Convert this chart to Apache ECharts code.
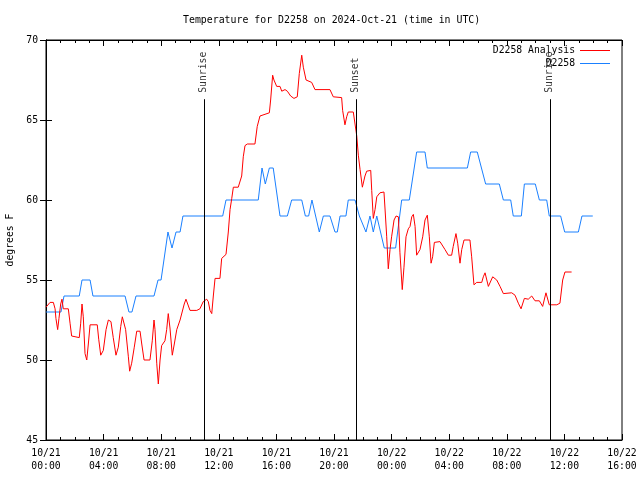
<!DOCTYPE html>
<html>
<head>
<meta charset="utf-8">
<script src="https://cdn.jsdelivr.net/npm/echarts@6/dist/echarts.min.js"></script>
<style>html,body{margin:0;padding:0;background:#fff}#c{width:640px;height:480px}</style>
</head>
<body>
<div id="c"></div>
<script>
// Hours since 2024-10-21 00:00 UTC
var xTickLabels = ['10/21\n00:00','10/21\n04:00','10/21\n08:00','10/21\n12:00','10/21\n16:00','10/21\n20:00',
                   '10/22\n00:00','10/22\n04:00','10/22\n08:00','10/22\n12:00','10/22\n16:00'];

var analysisHours = [0.0,0.28,0.51,0.63,0.69,0.81,0.9,1.02,1.11,1.2,1.55,1.67,1.78,2.31,2.41,2.5,2.59,2.71,2.83,2.94,
  3.06,3.56,3.66,3.8,3.98,4.17,4.33,4.51,4.67,4.86,5.02,5.19,5.3,5.53,5.72,5.81,5.95,6.13,6.3,6.53,6.65,6.81,7.22,
  7.38,7.5,7.57,7.69,7.8,7.92,8.03,8.26,8.38,8.49,8.61,8.77,8.91,9.08,9.31,9.6,9.72,10.0,10.47,10.69,10.92,11.16,
  11.27,11.39,11.51,11.62,11.74,12.08,12.2,12.5,12.66,12.78,12.9,13.01,13.35,13.47,13.59,13.7,13.82,13.98,14.51,
  14.67,14.86,15.51,15.6,15.74,15.83,16.02,16.25,16.37,16.6,16.76,16.99,17.22,17.45,17.59,17.76,17.87,18.06,18.45,
  18.68,19.72,19.95,20.53,20.6,20.76,20.88,20.99,21.34,21.46,21.58,21.69,21.81,21.97,22.15,22.27,22.55,22.62,22.73,
  22.85,22.97,23.19,23.47,23.54,23.66,23.77,23.89,24.0,24.17,24.31,24.47,24.58,24.74,24.86,25.0,25.16,25.28,25.4,
  25.51,25.63,25.74,25.97,26.16,26.32,26.48,26.62,26.74,26.85,26.97,27.36,27.48,27.71,27.94,28.17,28.28,28.47,28.59,
  28.75,28.87,29.03,29.44,29.56,29.72,29.91,30.26,30.37,30.49,30.72,31.02,31.3,31.53,31.76,32.34,32.57,32.8,32.99,
  33.22,33.49,33.73,33.96,34.26,34.49,34.72,34.95,35.47,35.69,35.88,36.04,36.5];
var analysisTemps = [53.3,53.6,53.6,53.2,52.6,51.9,52.6,53.5,53.8,53.2,53.2,52.3,51.5,51.4,52.3,53.5,52.7,50.4,50.0,51.0,
  52.2,52.2,51.3,50.3,50.6,51.9,52.5,52.4,51.4,50.3,50.8,52.1,52.7,51.9,50.2,49.3,49.8,50.8,51.8,51.8,51.0,50.0,50.0,
  51.2,52.5,51.9,49.8,48.5,50.0,50.9,51.2,51.9,52.9,52.0,50.3,51.0,51.9,52.5,53.5,53.8,53.1,53.1,53.2,53.65,53.8,
  53.65,53.1,52.9,54.0,55.1,55.1,56.35,56.6,58.0,59.4,60.1,60.8,60.8,60.8,61.5,62.7,63.4,63.5,63.5,
  64.6,65.25,65.45,66.25,67.8,67.5,67.1,67.1,66.8,66.9,66.8,66.5,66.35,66.45,67.9,69.05,68.3,67.5,67.35,
  66.9,66.9,66.45,66.4,65.6,64.7,65.2,65.5,65.5,65.4,64.0,62.8,61.9,60.8,61.5,61.8,61.85,60.6,58.85,
  59.4,60.2,60.45,60.5,59.5,57.7,55.7,56.9,57.7,58.75,59.0,58.95,56.7,54.4,55.8,57.7,58.2,58.35,58.95,
  59.1,58.35,56.55,56.9,57.7,58.75,59.05,57.7,56.05,56.45,57.35,57.4,57.35,56.9,56.55,56.55,57.1,57.9,57.3,
  56.05,56.9,57.5,57.5,56.45,54.7,54.85,54.85,55.2,55.45,54.6,55.2,55.0,54.6,54.15,54.2,54.05,53.55,53.2,
  53.85,53.8,54.0,53.7,53.7,53.35,54.2,53.45,53.45,53.55,55.0,55.5,55.5];

var obsHours = [0.0,1.04,1.25,2.31,2.5,3.06,3.26,5.49,5.76,5.97,6.25,7.5,7.78,7.99,8.47,8.75,9.03,9.31,9.51,12.27,12.5,
  14.74,15.0,15.23,15.51,15.78,16.25,16.76,17.06,17.76,18.01,18.24,18.47,18.98,19.26,19.72,20.07,20.23,20.42,20.83,
  20.99,21.46,21.76,22.22,22.5,22.73,22.97,23.49,24.28,24.7,25.23,25.74,26.32,26.48,29.26,29.49,29.95,30.53,31.48,
  31.76,32.27,32.45,33.01,33.22,33.98,34.26,34.77,34.95,35.74,36.02,36.97,37.22,37.97];
var obsTemps = [53,53,54,54,55,55,54,54,53,53,54,54,55,55,58,57,58,58,59,59,60,
  60,62,61,62,62,59,59,60,60,59,59,60,58,59,59,58,58,59,59,
  60,60,59,58,59,58,59,57,57,60,60,63,63,62,62,63,63,61,61,
  60,60,59,59,61,61,60,60,59,59,58,58,59,59];

var sunNames = ['Sunrise','Sunset','Sunrise'];
var sunHours = [11.0, 21.55, 35.02];
var sunLineTop = 66.3;
var sunLabelBase = 66.7;

var seriesNames = ['D2258 Analysis','D2258'];
var seriesColors = ['#ff0000','#1a80ff'];

function pairs(xs, ys){ return xs.map(function(x,i){ return [x, ys[i]]; }); }

var FONT = 'DejaVu Sans Mono';
var FS = 9.75;
var chart = echarts.init(document.getElementById('c'), null, {renderer:'canvas'});
var axisCommon = {
  type:'value', min:0, max:40, interval:4,
  axisLine:{show:true, lineStyle:{color:'#000', width:1}},
  axisTick:{show:true, inside:true, length:6, lineStyle:{color:'#000'}},
  minorTick:{show:true, splitNumber:4, length:3, lineStyle:{color:'#000'}},
  splitLine:{show:false}
};
chart.setOption({
  animation:false,
  backgroundColor:'#fff',
  title:{text:'Temperature for D2258 on 2024-Oct-21 (time in UTC)', left:178, top:10,
    textStyle:{fontFamily:FONT, fontSize:9.9, fontWeight:'normal', color:'#000'}},
  legend:{data:seriesNames.map(function(n){ return {name:n, icon:'rect'}; }),
    orient:'vertical', align:'right', right:30, top:44, padding:0,
    itemWidth:30, itemHeight:1, itemGap:0,
    textStyle:{fontFamily:FONT, fontSize:FS, lineHeight:13, color:'#000'}},
  grid:{left:46, right:18, top:40, bottom:40, show:true, borderColor:'#000', borderWidth:1,
    containLabel:false, outerBoundsMode:'none'},
  xAxis:[
    Object.assign({}, axisCommon, {position:'bottom',
      axisLabel:{show:true, margin:7, lineHeight:13, fontFamily:FONT, fontSize:FS, color:'#000',
        formatter:function(v){ return xTickLabels[Math.round(v/4)]; }}}),
    Object.assign({}, axisCommon, {position:'top', axisLabel:{show:false}})
  ],
  yAxis:[
    {type:'value', min:45, max:70, interval:5, position:'left',
      name:'degrees F', nameLocation:'middle', nameGap:28, nameRotate:90,
      nameTextStyle:{fontFamily:FONT, fontSize:FS, color:'#000'},
      axisLine:{show:true, lineStyle:{color:'#000'}},
      axisTick:{show:true, inside:true, length:6, lineStyle:{color:'#000'}},
      axisLabel:{margin:8, fontFamily:FONT, fontSize:FS, color:'#000'},
      splitLine:{show:false}},
    {type:'value', min:45, max:70, interval:5, position:'right',
      axisLine:{show:true, lineStyle:{color:'#000'}},
      axisTick:{show:true, inside:true, length:6, lineStyle:{color:'#000'}},
      axisLabel:{show:false}, splitLine:{show:false}}
  ],
  series:[
    {name:seriesNames[0], type:'line', data:pairs(analysisHours, analysisTemps), symbol:'none',
      lineStyle:{color:seriesColors[0], width:1}, itemStyle:{color:seriesColors[0]}, z:3,
      markLine:{silent:true, symbol:['none','none'], label:{show:false},
        lineStyle:{color:'#000', width:1, type:'solid'},
        data: sunHours.map(function(h){ return [{coord:[h,45]},{coord:[h,sunLineTop]}]; })}},
    {name:seriesNames[1], type:'line', data:pairs(obsHours, obsTemps), symbol:'none',
      lineStyle:{color:seriesColors[1], width:1}, itemStyle:{color:seriesColors[1]}, z:2},
    {name:'sun', type:'scatter', symbolSize:0, silent:true, z:1,
      data: sunHours.map(function(h,i){ return {value:[h, sunLabelBase], name:sunNames[i]}; }),
      label:{show:true, position:[-1,0], rotate:90, align:'left', verticalAlign:'middle',
        formatter:function(p){ return p.name; }, fontFamily:FONT, fontSize:FS, color:'#000'}}
  ]
});
</script>
</body>
</html>
